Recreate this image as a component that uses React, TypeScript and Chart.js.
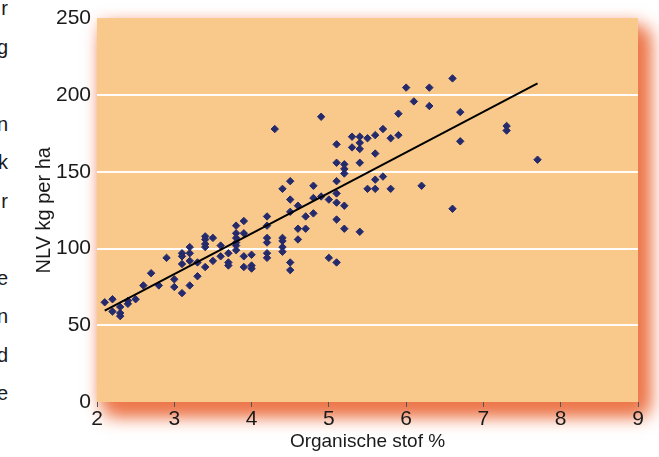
import React, { useEffect, useRef } from "react";
import { Chart, registerables } from "chart.js";

Chart.register(...registerables);

// Organische stof % (x) and NLV kg per ha (y)
const organicMatter = [
  2.1, 2.2, 2.2, 2.3, 2.3, 2.3, 2.4, 2.4, 2.5, 2.6, 2.7, 2.8, 2.9, 3.0, 3.0,
  3.1, 3.1, 3.1, 3.1, 3.2, 3.2, 3.2, 3.2, 3.3, 3.3, 3.4, 3.4, 3.4, 3.4, 3.4,
  3.5, 3.5, 3.6, 3.6, 3.7, 3.7, 3.7, 3.8, 3.8, 3.8, 3.8, 3.8, 3.8, 3.9, 3.9,
  3.9, 3.9, 4.0, 4.0, 4.0, 4.2, 4.2, 4.2, 4.2, 4.2, 4.2, 4.3, 4.4, 4.4, 4.4,
  4.4, 4.4, 4.5, 4.5, 4.5, 4.5, 4.5, 4.6, 4.6, 4.6, 4.7, 4.7, 4.8, 4.8, 4.8,
  4.9, 4.9, 5.0, 5.0, 5.1, 5.1, 5.1, 5.1, 5.1, 5.1, 5.1, 5.2, 5.2, 5.2, 5.2,
  5.2, 5.3, 5.3, 5.4, 5.4, 5.4, 5.4, 5.4, 5.5, 5.5, 5.6, 5.6, 5.6, 5.6, 5.7,
  5.7, 5.8, 5.8, 5.9, 5.9, 6.0, 6.1, 6.2, 6.3, 6.3, 6.6, 6.6, 6.7, 6.7, 7.3,
  7.3, 7.7,
];
const nlvKgPerHa = [
  65, 67, 59, 62, 58, 56, 66, 64, 67, 76, 84, 76, 94, 80, 75,
  71, 97, 95, 90, 101, 97, 92, 76, 91, 82, 108, 106, 103, 101, 88,
  107, 92, 102, 95, 97, 91, 89, 115, 110, 107, 104, 102, 99, 118, 110,
  95, 88, 96, 89, 87, 121, 115, 107, 104, 97, 94, 178, 139, 107, 105,
  101, 98, 144, 132, 124, 91, 86, 128, 113, 106, 121, 113, 141, 133, 123,
  186, 134, 132, 94, 168, 156, 144, 136, 130, 119, 91, 155, 152, 149, 128,
  113, 173, 166, 173, 169, 165, 156, 111, 172, 139, 174, 162, 145, 139, 178,
  147, 172, 139, 188, 174, 205, 196, 141, 205, 193, 211, 126, 189, 170, 180,
  177, 158,
];

// regression line end points
const trendX = [2.1, 7.7];
const trendY = [59.6, 207.8];

const xTickValues = [2, 3, 4, 5, 6, 7, 8, 9];
const yTickValues = [0, 50, 100, 150, 200, 250];

const xTitle = "Organische stof %";
const yTitle = "NLV kg per ha";

// clipped ends of body-text lines on the left edge
const sideLetters = ["r", "g", "", "n", "k", "r", "", "e", "n", "d", "e"];

const FONT = "'Liberation Sans', Arial, sans-serif";

const plotBackground = {
  id: "plotBackground",
  beforeDraw(chart: any) {
    const { ctx, chartArea } = chart;
    const { left, top, right, bottom } = chartArea;
    const w = right - left;
    const h = bottom - top;
    ctx.save();
    ctx.fillStyle = "#F9C98B";
    // soft halo all round
    ctx.shadowColor = "rgba(240,160,140,0.35)";
    ctx.shadowBlur = 12;
    ctx.shadowOffsetX = 0;
    ctx.shadowOffsetY = 0;
    ctx.fillRect(left, top, w, h);
    // drop shadow to the lower right
    ctx.shadowColor = "rgba(237,120,76,1)";
    ctx.shadowBlur = 18;
    ctx.shadowOffsetX = 9;
    ctx.shadowOffsetY = 11;
    ctx.fillRect(left, top, w, h);
    ctx.fillRect(left, top, w, h);
    ctx.restore();
    ctx.save();
    ctx.fillStyle = "#F9C98B";
    ctx.fillRect(left, top, w, h);
    ctx.restore();
  },
};

export default function App() {
  const canvasRef = useRef<HTMLCanvasElement | null>(null);

  useEffect(() => {
    if (!canvasRef.current) return;
    const points = organicMatter.map((x, i) => ({ x, y: nlvKgPerHa[i] }));
    const trend = trendX.map((x, i) => ({ x, y: trendY[i] }));

    const chart = new Chart(canvasRef.current, {
      type: "scatter",
      data: {
        datasets: [
          {
            type: "line",
            data: trend,
            borderColor: "#000000",
            borderWidth: 2,
            pointRadius: 0,
            fill: false,
            order: 0,
          } as any,
          {
            data: points,
            pointStyle: "rectRot",
            pointRadius: 3.7,
            borderWidth: 1,
            backgroundColor: "#242A6B",
            borderColor: "#242A6B",
            order: 1,
          },
        ],
      },
      options: {
        animation: false,
        responsive: true,
        maintainAspectRatio: false,
        layout: { padding: { left: 0, right: 21, top: 16, bottom: 0 } },
        plugins: {
          legend: { display: false },
          tooltip: { enabled: false },
        },
        scales: {
          x: {
            type: "linear",
            min: 2,
            max: 9,
            afterBuildTicks: (scale: any) => {
              scale.ticks = xTickValues.map((v) => ({ value: v }));
            },
            afterFit: (scale: any) => {
              scale.height = 55;
            },
            border: { display: false },
            grid: {
              display: true,
              drawOnChartArea: false,
              drawTicks: true,
              tickLength: 5,
              tickColor: "#555555",
              color: "#555555",
            },
            ticks: {
              padding: 0,
              color: "#1a1a1a",
              font: { family: FONT, size: 21 },
            },
            title: {
              display: true,
              text: xTitle,
              color: "#1a1a1a",
              font: { family: FONT, size: 19 },
              padding: { top: 0, bottom: 4 },
            },
          },
          y: {
            type: "linear",
            min: 0,
            max: 250,
            afterBuildTicks: (scale: any) => {
              scale.ticks = yTickValues.map((v) => ({ value: v }));
            },
            afterFit: (scale: any) => {
              scale.width = 97;
            },
            border: { display: false },
            grid: {
              drawTicks: false,
              lineWidth: 2,
              color: (ctx: any) =>
                ctx.tick && (ctx.tick.value === 0 || ctx.tick.value === 250)
                  ? "rgba(0,0,0,0)"
                  : "rgba(255,255,255,0.95)",
            },
            ticks: {
              padding: 6,
              color: "#1a1a1a",
              font: { family: FONT, size: 21 },
            },
            title: {
              display: true,
              text: yTitle,
              color: "#1a1a1a",
              font: { family: FONT, size: 20 },
              padding: { top: 32, bottom: 0 },
            },
          },
        },
      },
      plugins: [plotBackground],
    });
    return () => chart.destroy();
  }, []);

  return (
    <div
      style={{
        position: "fixed",
        left: 0,
        top: 0,
        width: 659,
        height: 457,
        background: "#ffffff",
        overflow: "hidden",
      }}
    >
      {sideLetters.map((ch, i) =>
        ch ? (
          <div
            key={i}
            style={{
              position: "absolute",
              left: -12,
              width: 20,
              top: i * 38.5 - 4,
              textAlign: "right",
              fontFamily: FONT,
              fontSize: 20,
              lineHeight: "24px",
              color: "#1a1a1a",
            }}
          >
            {ch}
          </div>
        ) : null
      )}
      <div style={{ position: "absolute", left: 0, top: 0, width: 659, height: 457 }}>
        <canvas ref={canvasRef} />
      </div>
    </div>
  );
}
